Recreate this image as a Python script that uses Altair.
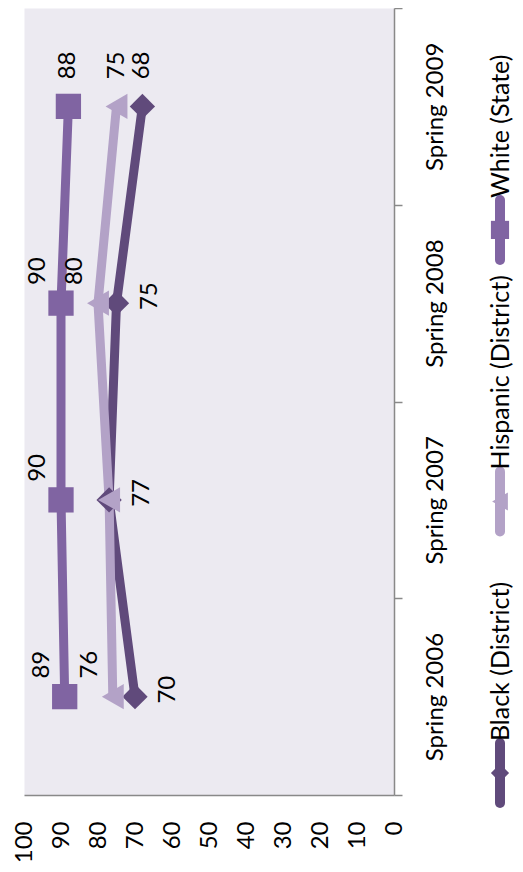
import altair as alt
import pandas as pd

# ---- data ----
periods = ["Spring 2006", "Spring 2007", "Spring 2008", "Spring 2009"]
series_names = ["Black (District)", "Hispanic (District)", "White (State)"]
black_vals = [70, 77, 75, 68]
hispanic_vals = [76, 77, 80, 75]
white_vals = [89, 90, 90, 88]
value_ticks = [0, 10, 20, 30, 40, 50, 60, 70, 80, 90, 100]

# data-label placement per point (Excel-style position names; "none" = no label)
black_label_pos = ["below", "below", "below", "right"]
hispanic_label_pos = ["above", "none", "above", "right"]
white_label_pos = ["above", "above", "above", "right"]

# ---- styles ----
colors = {"Black (District)": "#604A7B", "Hispanic (District)": "#B3A2C7", "White (State)": "#8064A2"}
shapes = {"Black (District)": "diamond", "Hispanic (District)": "triangle-left", "White (State)": "square"}
# screen offsets (dx, dy) of the rotated labels for each Excel position
label_offsets = {"above": (-23, -32), "below": (33, -7), "right": (0, -41)}
FONT = "Lato"
AXIS_FS = 24
LABEL_FS = 24
LEGEND_FS = 25
AXIS_GREY = "#898989"
W, H = 370, 787
LEGEND_X = 476

rows = []
for name, vals, poss in [
    ("Black (District)", black_vals, black_label_pos),
    ("Hispanic (District)", hispanic_vals, hispanic_label_pos),
    ("White (State)", white_vals, white_label_pos),
]:
    for i, (p, v, lp) in enumerate(zip(periods, vals, poss)):
        rows.append({"series": name, "period": p, "value": v, "idx": i, "pos": lp})
df = pd.DataFrame(rows)
legend_df = pd.DataFrame({"series": series_names})

x_enc = alt.X(
    "value:Q",
    scale=alt.Scale(domain=[0, 100], reverse=True, nice=False),
    axis=alt.Axis(
        values=value_ticks, title=None, grid=False, ticks=False, tickSize=0,
        labelAngle=270, labelAlign="right", labelBaseline="middle", labelPadding=26,
        labelFont=FONT, labelFontSize=AXIS_FS, labelColor="#000000",
        labelFlush=False, labelOverlap=False,
        domainColor=AXIS_GREY, domainWidth=1.5,
    ),
)
y_enc = alt.Y(
    "period:N",
    sort=periods[::-1],
    scale=alt.Scale(type="band", paddingInner=0, paddingOuter=0),
    axis=alt.Axis(
        orient="right", title=None, grid=False,
        tickBand="extent", tickSize=8, tickWidth=1.5, tickColor=AXIS_GREY,
        domainColor=AXIS_GREY, domainWidth=1.5,
        labelAngle=270, labelAlign="center", labelBaseline="top", labelPadding=21,
        labelFont=FONT, labelFontSize=AXIS_FS, labelColor="#000000",
    ),
)

base = alt.Chart(df)
layers = []
for name in series_names:
    layers.append(
        base.transform_filter(alt.datum.series == name)
        .mark_line(color=colors[name], strokeWidth=9, strokeJoin="round")
        .encode(x=x_enc, y=y_enc, order=alt.Order("idx:Q"))
    )
for name in series_names:
    layers.append(
        base.transform_filter(alt.datum.series == name)
        .mark_point(shape=shapes[name], size=640, filled=True, opacity=1, color=colors[name])
        .encode(x=x_enc, y=y_enc)
    )
for pos, (dx, dy) in label_offsets.items():
    layers.append(
        base.transform_filter(alt.datum.pos == pos)
        .mark_text(angle=270, align="center", baseline="middle", font=FONT, fontSize=LABEL_FS,
                   color="#000000", xOffset=dx, yOffset=dy)
        .encode(x=x_enc, y=y_enc, text=alt.Text("value:Q"))
    )
main = alt.layer(*layers)

# ---- rotated legend ----
ly = alt.Y("series:N", sort=series_names[::-1],
           scale=alt.Scale(type="point", padding=0.449, align=0.91), axis=None)
lcolor = alt.Color("series:N", scale=alt.Scale(domain=series_names, range=[colors[s] for s in series_names]), legend=None)
lshape = alt.Shape("series:N", scale=alt.Scale(domain=series_names, range=[shapes[s] for s in series_names]), legend=None)
lbase = alt.Chart(legend_df)
leg_line = lbase.mark_point(shape="M0,-1L0,1", size=3600, filled=False, strokeWidth=10,
                            strokeCap="round", opacity=1).encode(
    x=alt.value(LEGEND_X), y=ly, color=lcolor)
leg_mark = lbase.mark_point(size=330, filled=True, opacity=1).encode(
    x=alt.value(LEGEND_X), y=ly, color=lcolor, shape=lshape)
leg_text = lbase.mark_text(angle=270, align="left", baseline="middle", font=FONT, fontSize=LEGEND_FS,
                           color="#000000", yOffset=-32).encode(
    x=alt.value(LEGEND_X + 1), y=ly, text="series:N")
legend = alt.layer(leg_line, leg_mark, leg_text)

chart = (
    alt.layer(main, legend)
    .resolve_scale(y="independent")
    .properties(
        width=W, height=H,
        autosize=alt.AutoSizeParams(type="none"),
        padding={"left": 16, "top": 0, "right": 507 - 16 - W, "bottom": 856 - H},
        background="#ffffff",
    )
    .configure_view(fill="#ECEAF1", stroke="transparent")
)

chart.save("out.html", embed_options={"renderer": "svg", "actions": False})
